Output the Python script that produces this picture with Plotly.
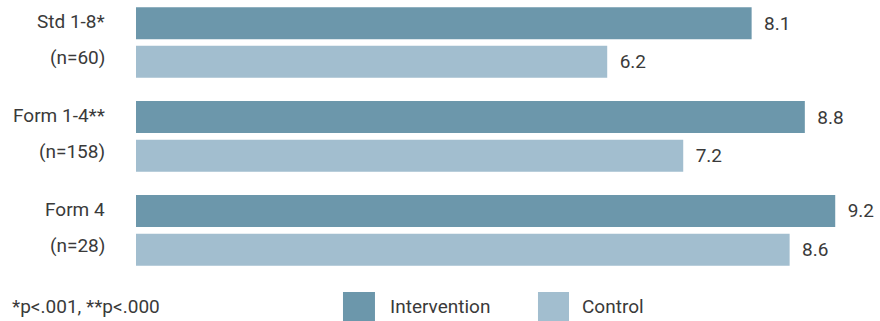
import plotly.graph_objects as go

categories = ["Std 1-8*", "Form 1-4**", "Form 4"]
sample_sizes = ["(n=60)", "(n=158)", "(n=28)"]
intervention = [8.1, 8.8, 9.2]
control = [6.2, 7.2, 8.6]
series_names = ["Intervention", "Control"]
footnote = "*p<.001, **p<.000"

C_INT = "#6c97ab"
C_CTL = "#a2becf"
TXT = "#3a3a3a"
FONT = "Roboto, Liberation Sans, Arial, sans-serif"
FS = 19


def f():
    return dict(family=FONT, size=FS, color=TXT)


fig = go.Figure()
for name, vals, col in [(series_names[0], intervention, C_INT), (series_names[1], control, C_CTL)]:
    fig.add_trace(go.Bar(
        y=categories, x=vals, name=name, orientation="h",
        marker=dict(color=col, line=dict(width=0)),
        texttemplate="\u00a0\u00a0%{x:.1f}", textposition="outside",
        textfont=f(), cliponaxis=False, showlegend=False, hoverinfo="skip",
    ))

annotations = []
for cat, n in zip(categories, sample_sizes):
    annotations.append(dict(x=-0.039, xref="paper", y=cat, yref="y", text=cat,
                            xanchor="right", yanchor="middle", yshift=21, showarrow=False,
                            font=f()))
    annotations.append(dict(x=-0.039, xref="paper", y=cat, yref="y", text=n,
                            xanchor="right", yanchor="middle", yshift=-15, showarrow=False,
                            font=f()))

annotations.append(dict(x=-0.1694, xref="paper", y=-0.093, yref="paper", text=footnote,
                        xanchor="left", yanchor="middle", showarrow=False, font=f()))

shapes = []
legend_pos = [(0.2782, 0.3212, 0.3387), (0.5403, 0.582, 0.5968)]
for (x0, x1, xt), name, col in zip(legend_pos, series_names, [C_INT, C_CTL]):
    shapes.append(dict(type="rect", xref="paper", yref="paper", x0=x0, x1=x1,
                       y0=-0.1464, y1=-0.0429, fillcolor=col, line=dict(width=0)))
    annotations.append(dict(x=xt, xref="paper", y=-0.093, yref="paper", text=name,
                            xanchor="left", yanchor="middle", showarrow=False, font=f()))

fig.update_layout(
    width=880, height=321,
    margin=dict(l=136, r=0, t=0, b=41, autoexpand=False),
    paper_bgcolor="white", plot_bgcolor="white",
    barmode="group", bargap=0.176, bargroupgap=0.173,
    xaxis=dict(range=[0, 9.789], showgrid=False, zeroline=False, showticklabels=False,
               showline=False, fixedrange=True),
    yaxis=dict(range=[2.529, -0.4526], showgrid=False, zeroline=False, showticklabels=False,
               showline=False, categoryorder="array", categoryarray=categories,
               fixedrange=True),
    annotations=annotations, shapes=shapes,
    font=f(),
)

fig.write_html("out.html", config={"displayModeBar": False},
               post_script="document.body.style.margin='0';document.body.style.overflow='hidden';")
